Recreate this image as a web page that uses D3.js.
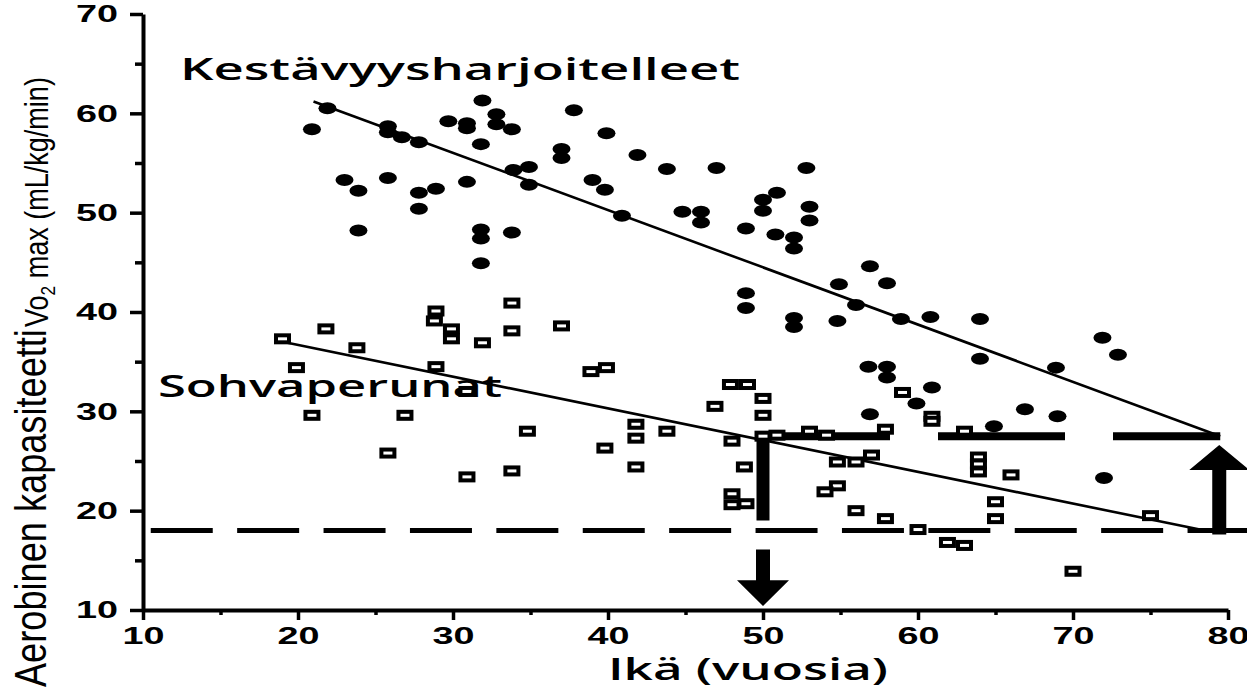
<!DOCTYPE html>
<html><head><meta charset="utf-8">
<script src="https://cdn.jsdelivr.net/npm/d3@7"></script>
<style>html,body{margin:0;padding:0;background:#fff;}svg{display:block;}</style>
</head><body>
<svg id="chart" width="1247" height="688"></svg>
<script>
// ---- data (age in years, VO2max mL/kg/min) ----
const trainedAge = [20.9,21.9,23,23.9,23.9,25.8,25.8,25.8,26.7,27.8,27.8,27.8,28.9,
  29.7,30.9,30.9,31.9,32.8,32.8,33.8,37.8,31.8,37,37,39.9,41.9,43.8,47,52.8,33.9,34.9,34.9,30.9,
  39,39.8,40.9,44.8,46,46,48.9,50,50,50.9,53,53,50.8,52,52,31.8,31.8,33.8,31.8,
  56.9,54.9,58,56,48.9,48.9,52,52,54.8,58.9,60.8,56.8,58,58,60.9,59.9,56.9,
  64,71.9,72.9,64,68.9,66.9,69,64.9,72];
const trainedVO2 = [58.4,60.5,53.3,52.2,48.2,53.5,58.7,58.1,57.6,57.1,52,50.4,52.4,
  59.2,59,58.5,61.3,59.9,58.9,58.4,60.3,56.9,56.4,55.5,58,55.8,54.4,54.5,54.5,54.3,54.6,52.8,53.1,
  53.3,52.3,49.7,50.1,50.1,49,48.4,51.3,50.2,52,50.6,49.2,47.8,47.5,46.4,48.3,47.4,48,44.9,
  44.6,42.8,42.9,40.7,41.9,40.4,39.4,38.5,39.1,39.3,39.5,34.5,34.5,33.4,32.4,30.8,29.7,
  39.3,37.4,35.7,35.3,34.4,30.2,29.5,28.5,23.3];

const sedentaryAge = [19,21.8,23.8,19.9,28.9,28.8,29.9,29.9,31.9,33.8,33.8,28.9,30.9,20.9,26.9,34.8,
  25.8,30.9,33.8,37,38.9,39.9,47.9,49,50,46.9,50,41.8,41.8,43.8,39.8,41.8,48,48.8,50,50.9,53,54.1,
  57.9,60.9,60.9,59,54.8,56,57,54.8,54,48,48,48.9,56,57.9,60,61.9,63,70,63,63.9,63.9,63.9,66,65,65,75];
const sedentaryVO2 = [37.3,38.3,36.4,34.4,40.1,39.1,38.3,37.3,36.9,40.9,38.1,34.5,32,29.6,29.6,28,
  25.8,23.4,24,38.6,34,34.4,32.7,32.7,31.3,30.5,29.6,28.7,27.3,28,26.3,24.4,27,24.4,27.5,27.6,28,27.6,
  28.2,29.5,29,31.9,24.9,24.9,25.6,22.5,21.9,21.7,20.6,20.7,20,19.2,18.1,16.8,16.5,13.9,28,25.4,24.7,23.9,23.6,20.9,19.2,19.5];

// regression lines: [startAge, startVO2, endAge, endVO2]
const trainedFit = [21, 61.2, 79.5, 27.5];
const sedentaryFit = [19, 37.0, 78.5, 18.0];

// annotation values
const thresholdVO2 = 18;          // dashed reference level
const trainedAt80 = 27.5;         // level of trained line at 80 years
const markAge = 50;               // age where sedentary reach trained-80 level
const markAge2 = 79.5;            // age at right arrow

const xTicks = [10,20,30,40,50,60,70,80];
const xMinor = [15,25,35,45,55,65,75];
const yTicks = [10,20,30,40,50,60,70];
const yMinor = [15,25,35,45,55,65];

// ---- scales ----
const svg = d3.select("#chart");
const x = d3.scaleLinear().domain([10,80]).range([143,1228]);
const y = d3.scaleLinear().domain([10,70]).range([610,14]);

const tickFont = "'Liberation Sans', Arial, sans-serif";

// ---- annotation lines (under markers) ----
const ann = svg.append("g");
ann.append("line")
  .attr("x1", x(10.5)).attr("x2", 1247)
  .attr("y1", y(thresholdVO2)).attr("y2", y(thresholdVO2))
  .attr("stroke", "#000").attr("stroke-width", 5)
  .attr("stroke-dasharray", "62,24.4");
ann.append("line")
  .attr("x1", x(markAge)).attr("x2", x(markAge2))
  .attr("y1", y(trainedAt80)).attr("y2", y(trainedAt80))
  .attr("stroke", "#000").attr("stroke-width", 8)
  .attr("stroke-dasharray", "127,48");
ann.append("line")
  .attr("x1", x(markAge)).attr("x2", x(markAge))
  .attr("y1", y(trainedAt80)).attr("y2", y(19))
  .attr("stroke", "#000").attr("stroke-width", 13);
{
  const cx = x(markAge), top = y(16.1), base = y(13.0), tip = y(10.4);
  ann.append("path")
    .attr("d", `M${cx-7},${top}L${cx+7},${top}L${cx+7},${base}L${cx+26},${base}L${cx},${tip}L${cx-26},${base}L${cx-7},${base}Z`)
    .attr("fill", "#000");
}
{
  const cx = x(markAge2) - 1, bot = y(17.6), base = y(24.1), tip = y(26.6);
  ann.append("path")
    .attr("d", `M${cx-7},${bot}L${cx+7},${bot}L${cx+7},${base}L${cx+30},${base}L${cx},${tip}L${cx-30},${base}L${cx-7},${base}Z`)
    .attr("fill", "#000");
}

// ---- fit lines ----
[trainedFit, sedentaryFit].forEach(f => {
  svg.append("line")
    .attr("x1", x(f[0])).attr("y1", y(f[1]))
    .attr("x2", x(f[2])).attr("y2", y(f[3]))
    .attr("stroke", "#000").attr("stroke-width", 2.6);
});

// ---- markers ----
svg.append("g").selectAll("rect")
  .data(d3.range(sedentaryAge.length))
  .join("rect")
  .attr("x", i => x(sedentaryAge[i]) - 6.5)
  .attr("y", i => y(sedentaryVO2[i]) - 3.5)
  .attr("width", 13).attr("height", 7)
  .attr("fill", "#fff").attr("stroke", "#000").attr("stroke-width", 4);

svg.append("g").selectAll("ellipse")
  .data(d3.range(trainedAge.length))
  .join("ellipse")
  .attr("cx", i => x(trainedAge[i]))
  .attr("cy", i => y(trainedVO2[i]))
  .attr("rx", 9).attr("ry", 6)
  .attr("fill", "#000");

// ---- axes ----
function styleAxis(g) {
  g.select(".domain").attr("stroke", "#000").attr("stroke-width", 4);
  g.selectAll(".tick line").attr("stroke", "#000").attr("stroke-width", 3.5);
}
const yAxis = svg.append("g").attr("transform", `translate(${x(10)},0)`)
  .call(d3.axisLeft(y).tickValues(yTicks).tickSize(13).tickSizeOuter(0).tickPadding(12).tickFormat(d3.format("d")));
styleAxis(yAxis);
yAxis.selectAll("text").attr("font-family", tickFont).attr("font-weight", "bold")
  .attr("font-size", 24).attr("fill", "#000")
  .attr("textLength", 42).attr("lengthAdjust", "spacingAndGlyphs");
const yMin = svg.append("g").attr("transform", `translate(${x(10)},0)`)
  .call(d3.axisLeft(y).tickValues(yMinor).tickSize(8).tickFormat(""));
yMin.select(".domain").remove();
yMin.selectAll(".tick line").attr("stroke", "#000").attr("stroke-width", 3.5);

const xAxis = svg.append("g").attr("transform", `translate(0,${y(10)})`)
  .call(d3.axisBottom(x).tickValues(xTicks).tickSize(10).tickSizeOuter(0).tickPadding(7).tickFormat(d3.format("d")));
styleAxis(xAxis);
xAxis.selectAll("text").attr("font-family", tickFont).attr("font-weight", "bold")
  .attr("font-size", 24).attr("fill", "#000")
  .attr("textLength", 42).attr("lengthAdjust", "spacingAndGlyphs");
const xMin = svg.append("g").attr("transform", `translate(0,${y(10)})`)
  .call(d3.axisBottom(x).tickValues(xMinor).tickSize(5).tickFormat(""));
xMin.select(".domain").remove();
xMin.selectAll(".tick line").attr("stroke", "#000").attr("stroke-width", 3.5);

// ---- texts ----
const labelFont = "'Open Sans', 'DejaVu Sans', sans-serif";
svg.append("text").attr("x", 180).attr("y", 80)
  .attr("font-family", labelFont).attr("font-weight", 600).attr("font-size", 31)
  .attr("textLength", 560).attr("lengthAdjust", "spacingAndGlyphs")
  .text("Kestävyysharjoitelleet");
svg.append("text").attr("x", 158).attr("y", 397)
  .attr("font-family", labelFont).attr("font-weight", 600).attr("font-size", 31)
  .attr("textLength", 344).attr("lengthAdjust", "spacingAndGlyphs")
  .text("Sohvaperunat");
svg.append("text").attr("x", 608).attr("y", 680)
  .attr("font-family", labelFont).attr("font-weight", 600).attr("font-size", 31)
  .attr("textLength", 280).attr("lengthAdjust", "spacingAndGlyphs")
  .text("Ikä (vuosia)");

// y-axis title: two parts, condensed horizontally to fit
const yFont = "'Liberation Sans', Arial, sans-serif";
function fitRotated(tx, ty, target, build) {
  const g = svg.append("g");
  const t = g.append("text").attr("font-family", yFont).attr("fill", "#000");
  build(t);
  const len = t.node().getComputedTextLength();
  g.attr("transform", `translate(${tx},${ty}) rotate(-90) scale(${target/len},1)`);
}
fitRotated(46, 687, 358, t => t.attr("font-size", 44).text("Aerobinen kapasiteetti"));
fitRotated(48, 327, 250, t => {
  t.attr("font-size", 33);
  t.append("tspan").text("Vo");
  t.append("tspan").attr("font-size", 21).attr("dy", 7).text("2");
  t.append("tspan").attr("dy", -7).text(" max (mL/kg/min)");
});
</script>
</body></html>
